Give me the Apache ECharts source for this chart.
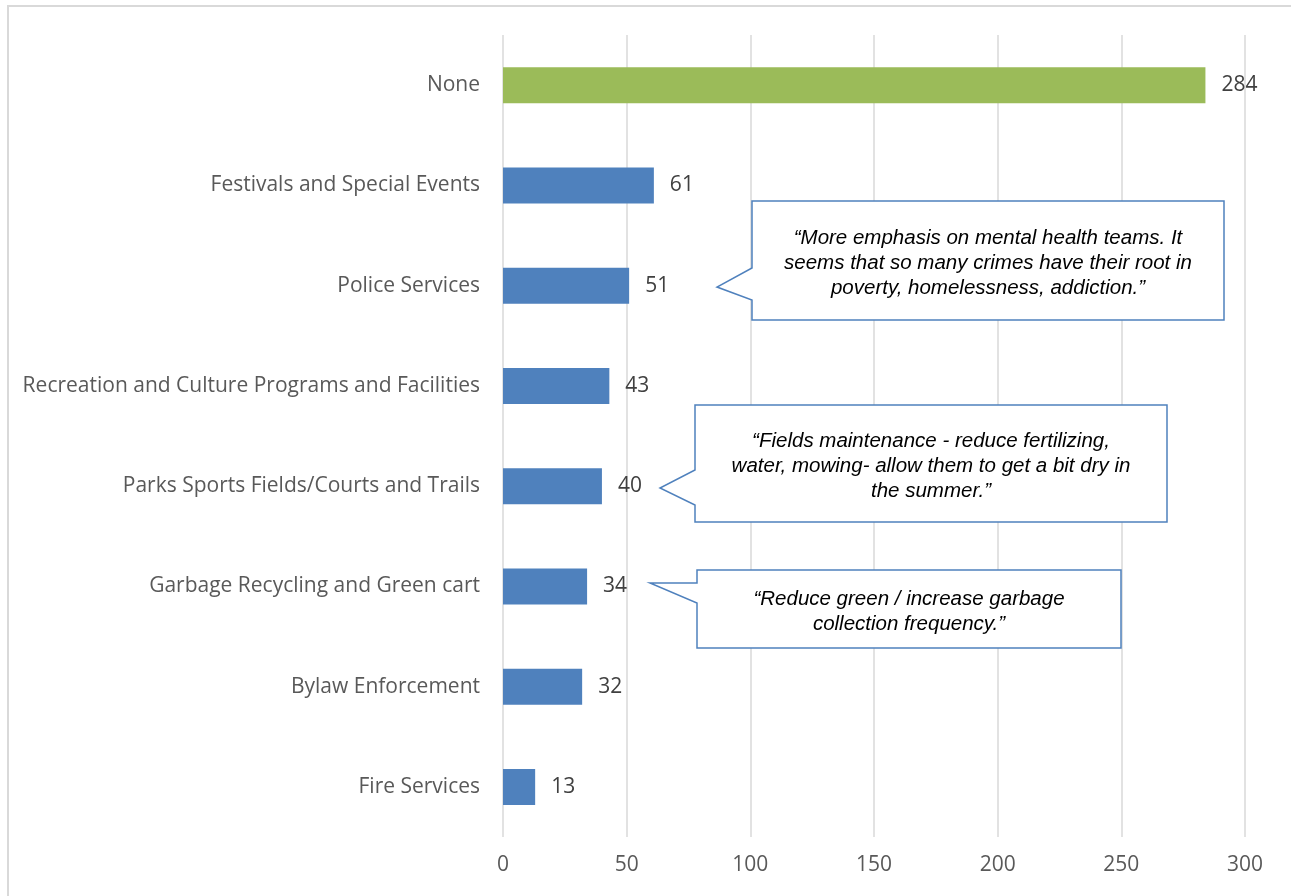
<!DOCTYPE html>
<html>
<head>
<meta charset="utf-8">
<script src="https://cdn.jsdelivr.net/npm/echarts@6/dist/echarts.min.js"></script>
<style>
html,body{margin:0;padding:0;background:#fff;}
#frame{position:absolute;left:7px;top:5px;width:1290px;height:900px;border:2px solid #d9d9d9;box-sizing:border-box;}
#chart{position:absolute;left:0;top:0;width:1291px;height:896px;}
</style>
</head>
<body>
<div id="frame"></div>
<div id="chart"></div>
<script>
const categories = ["None","Festivals and Special Events","Police Services","Recreation and Culture Programs and Facilities","Parks Sports Fields/Courts and Trails","Garbage Recycling and Green cart","Bylaw Enforcement","Fire Services"];
const values = [284, 61, 51, 43, 40, 34, 32, 13];
const xTicks = [0, 50, 100, 150, 200, 250, 300];
const quotes = [
  "\u201cMore emphasis on mental health teams. It\nseems that so many crimes have their root in\npoverty, homelessness, addiction.\u201d",
  "\u201cFields maintenance - reduce fertilizing,\nwater, mowing- allow them to get a bit dry in\nthe summer.\u201d",
  "\u201cReduce green / increase garbage\ncollection frequency.\u201d"
];

const chart = echarts.init(document.getElementById('chart'), null, {renderer:'canvas'});
const labelFont = '"Open Sans", Lato, sans-serif';
const quoteFont = '"Liberation Sans", Arial, sans-serif';

function callout(box, base1, base2, tip, text) {
  const [x1,y1,x2,y2] = box;
  const pts = [[x1,y1],[x2,y1],[x2,y2],[x1,y2],[x1,base2],tip,[x1,base1]];
  return [
    {type:'polygon', shape:{points:pts}, style:{fill:'#fff', stroke:'#4f81bd', lineWidth:1.5}, z:100},
    {type:'text', x:(x1+x2)/2, y:(y1+y2)/2 + 2.5, style:{text:text, fill:'#000', font:'italic 20.5px ' + quoteFont, align:'center', verticalAlign:'middle', lineHeight:25}, z:101}
  ];
}

const graphics = [].concat(
  callout([752,201,1224,320], 268, 300, [717,287], quotes[0]),
  callout([695,405,1167,522], 470, 505, [660,488], quotes[1]),
  callout([697,570,1121,648], 583, 603, [650,583], quotes[2])
);

chart.setOption({
  animation:false,
  backgroundColor:'transparent',
  grid:{left:503, right:46, top:35, bottom:59, containLabel:false},
  xAxis:{
    type:'value', min:xTicks[0], max:xTicks[xTicks.length-1], interval:50,
    axisLine:{show:false}, axisTick:{show:false},
    splitLine:{lineStyle:{color:'#d9d9d9', width:1.5}},
    axisLabel:{color:'#595959', fontFamily:labelFont, fontSize:21, margin:18}
  },
  yAxis:{
    type:'category', data:categories, inverse:true,
    axisLine:{show:false}, axisTick:{show:false},
    axisLabel:{color:'#595959', fontFamily:labelFont, fontSize:21, margin:23, padding:[4,0,0,0]}
  },
  series:[{
    type:'bar', barWidth:36,
    data: values.map((v,i)=>({value:v, itemStyle:{color: i===0 ? '#9bbb59' : '#4f81bd'}})),
    label:{show:true, position:'right', distance:16, color:'#404040', fontFamily:labelFont, fontSize:21, padding:[4,0,0,0]}
  }],
  graphic: graphics
});
</script>
</body>
</html>
